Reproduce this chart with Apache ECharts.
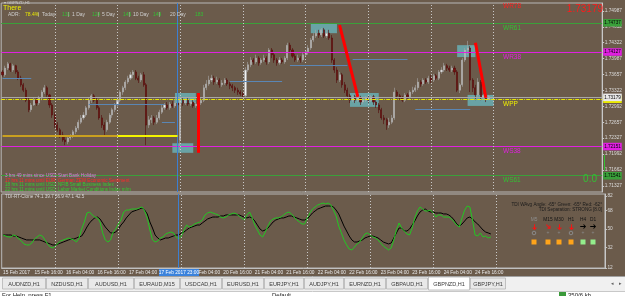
<!DOCTYPE html>
<html><head><meta charset="utf-8">
<script src="https://cdn.jsdelivr.net/npm/echarts@6/dist/echarts.min.js"></script>
<style>html,body{margin:0;padding:0;background:#6b5b4b;overflow:hidden}#c{width:625px;height:296px;}</style>
</head><body><div id="c"></div>
<script>
// ---------- DATA ----------
const open=[1.7371,1.7365,1.7379,1.7388,1.7375,1.7384,1.7371,1.7358,1.7344,1.7333,
1.7312,1.7292,1.7302,1.7312,1.7306,1.7317,1.7329,1.7338,1.7323,1.7302,
1.7281,1.7260,1.7250,1.7239,1.7229,1.7225,1.7233,1.7237,1.7246,1.7254,
1.7266,1.7275,1.7281,1.7296,1.7312,1.7321,1.7312,1.7296,1.7275,1.7260,
1.7250,1.7266,1.7281,1.7292,1.7302,1.7312,1.7329,1.7338,1.7350,1.7358,
1.7365,1.7371,1.7358,1.7354,1.7365,1.7344,1.7260,1.7271,1.7275,1.7266,
1.7275,1.7287,1.7296,1.7302,1.7296,1.7304,1.7300,1.7306,1.7229,1.7312,
1.7306,1.7312,1.7304,1.7308,1.7300,1.7304,1.7306,1.7312,1.7338,1.7346,
1.7354,1.7358,1.7350,1.7354,1.7344,1.7348,1.7354,1.7346,1.7342,1.7338,
1.7333,1.7329,1.7325,1.7321,1.7375,1.7386,1.7396,1.7392,1.7400,1.7390,
1.7396,1.7400,1.7392,1.7417,1.7407,1.7396,1.7390,1.7396,1.7392,1.7400,
1.7427,1.7417,1.7404,1.7396,1.7400,1.7396,1.7407,1.7413,1.7421,1.7438,
1.7446,1.7452,1.7448,1.7459,1.7446,1.7452,1.7442,1.7396,1.7375,1.7354,
1.7365,1.7344,1.7333,1.7321,1.7312,1.7319,1.7312,1.7317,1.7308,1.7312,
1.7317,1.7312,1.7319,1.7308,1.7302,1.7292,1.7275,1.7271,1.7260,1.7266,
1.7275,1.7329,1.7321,1.7317,1.7312,1.7323,1.7319,1.7329,1.7333,1.7338,
1.7350,1.7346,1.7354,1.7350,1.7358,1.7354,1.7363,1.7358,1.7371,1.7375,
1.7384,1.7379,1.7375,1.7379,1.7371,1.7333,1.7344,1.7396,1.7417,1.7421,
1.7354,1.7338,1.7323,1.7350,1.7317,1.7321,1.7315];
const close=[1.7365,1.7379,1.7388,1.7375,1.7384,1.7371,1.7358,1.7344,1.7333,1.7312,
1.7292,1.7302,1.7312,1.7306,1.7317,1.7329,1.7338,1.7323,1.7302,1.7281,
1.7260,1.7250,1.7239,1.7229,1.7225,1.7233,1.7237,1.7246,1.7254,1.7266,
1.7275,1.7281,1.7296,1.7312,1.7321,1.7312,1.7296,1.7275,1.7260,1.7250,
1.7266,1.7281,1.7292,1.7302,1.7312,1.7329,1.7338,1.7350,1.7358,1.7365,
1.7371,1.7358,1.7354,1.7365,1.7344,1.7260,1.7271,1.7275,1.7266,1.7275,
1.7287,1.7296,1.7302,1.7296,1.7304,1.7300,1.7306,1.7302,1.7312,1.7306,
1.7312,1.7304,1.7308,1.7300,1.7304,1.7306,1.7312,1.7338,1.7346,1.7354,
1.7358,1.7350,1.7354,1.7344,1.7348,1.7354,1.7346,1.7342,1.7338,1.7333,
1.7329,1.7325,1.7321,1.7375,1.7386,1.7396,1.7392,1.7400,1.7390,1.7396,
1.7400,1.7392,1.7417,1.7407,1.7396,1.7390,1.7396,1.7392,1.7400,1.7427,
1.7417,1.7404,1.7396,1.7400,1.7396,1.7407,1.7413,1.7421,1.7438,1.7446,
1.7452,1.7448,1.7459,1.7446,1.7452,1.7442,1.7396,1.7375,1.7354,1.7365,
1.7344,1.7333,1.7321,1.7312,1.7319,1.7312,1.7317,1.7308,1.7312,1.7317,
1.7312,1.7319,1.7308,1.7302,1.7292,1.7275,1.7271,1.7260,1.7266,1.7275,
1.7329,1.7321,1.7317,1.7312,1.7323,1.7319,1.7329,1.7333,1.7338,1.7350,
1.7346,1.7354,1.7350,1.7358,1.7354,1.7363,1.7358,1.7371,1.7375,1.7384,
1.7379,1.7375,1.7379,1.7371,1.7333,1.7344,1.7396,1.7417,1.7421,1.7354,
1.7338,1.7323,1.7350,1.7317,1.7321,1.7315,1.7319];
const high=[1.7375,1.7384,1.7392,1.7390,1.7388,1.7386,1.7375,1.7363,1.7348,1.7338,
1.7317,1.7306,1.7317,1.7317,1.7321,1.7333,1.7344,1.7342,1.7325,1.7306,
1.7287,1.7266,1.7254,1.7246,1.7237,1.7237,1.7241,1.7250,1.7258,1.7271,
1.7281,1.7287,1.7300,1.7317,1.7325,1.7325,1.7317,1.7300,1.7281,1.7266,
1.7271,1.7285,1.7296,1.7306,1.7317,1.7333,1.7342,1.7354,1.7363,1.7371,
1.7375,1.7375,1.7363,1.7369,1.7371,1.7348,1.7279,1.7281,1.7279,1.7281,
1.7292,1.7302,1.7306,1.7308,1.7308,1.7310,1.7312,1.7310,1.7317,1.7317,
1.7317,1.7317,1.7315,1.7312,1.7308,1.7312,1.7317,1.7344,1.7354,1.7363,
1.7365,1.7363,1.7361,1.7358,1.7354,1.7358,1.7358,1.7350,1.7346,1.7342,
1.7338,1.7333,1.7329,1.7381,1.7392,1.7402,1.7400,1.7407,1.7404,1.7400,
1.7407,1.7404,1.7421,1.7421,1.7411,1.7400,1.7402,1.7400,1.7404,1.7432,
1.7432,1.7421,1.7409,1.7407,1.7404,1.7411,1.7417,1.7427,1.7442,1.7452,
1.7459,1.7459,1.7463,1.7463,1.7459,1.7459,1.7448,1.7400,1.7381,1.7371,
1.7369,1.7350,1.7338,1.7325,1.7323,1.7323,1.7321,1.7321,1.7317,1.7321,
1.7321,1.7323,1.7323,1.7312,1.7306,1.7296,1.7281,1.7275,1.7275,1.7281,
1.7338,1.7333,1.7325,1.7321,1.7327,1.7327,1.7333,1.7340,1.7344,1.7358,
1.7354,1.7358,1.7358,1.7363,1.7365,1.7367,1.7367,1.7375,1.7381,1.7390,
1.7388,1.7384,1.7384,1.7384,1.7375,1.7348,1.7400,1.7421,1.7436,1.7425,
1.7358,1.7344,1.7358,1.7354,1.7325,1.7325,1.7323];
const low=[1.7361,1.7361,1.7375,1.7371,1.7371,1.7367,1.7354,1.7340,1.7329,1.7308,
1.7287,1.7287,1.7300,1.7300,1.7302,1.7312,1.7325,1.7319,1.7296,1.7275,
1.7254,1.7246,1.7233,1.7225,1.7218,1.7220,1.7229,1.7233,1.7241,1.7250,
1.7262,1.7271,1.7277,1.7292,1.7306,1.7308,1.7292,1.7271,1.7254,1.7239,
1.7246,1.7262,1.7275,1.7287,1.7298,1.7308,1.7323,1.7333,1.7346,1.7354,
1.7358,1.7354,1.7348,1.7350,1.7340,1.7218,1.7254,1.7264,1.7260,1.7262,
1.7271,1.7283,1.7292,1.7292,1.7292,1.7296,1.7296,1.7298,1.7208,1.7300,
1.7302,1.7300,1.7300,1.7296,1.7296,1.7300,1.7302,1.7308,1.7333,1.7342,
1.7350,1.7344,1.7346,1.7338,1.7340,1.7344,1.7342,1.7335,1.7331,1.7327,
1.7323,1.7321,1.7317,1.7317,1.7371,1.7381,1.7386,1.7388,1.7384,1.7386,
1.7392,1.7386,1.7388,1.7400,1.7390,1.7384,1.7386,1.7388,1.7388,1.7396,
1.7411,1.7400,1.7392,1.7392,1.7390,1.7392,1.7402,1.7407,1.7417,1.7434,
1.7442,1.7442,1.7444,1.7442,1.7442,1.7438,1.7390,1.7369,1.7348,1.7350,
1.7338,1.7327,1.7315,1.7306,1.7308,1.7306,1.7308,1.7302,1.7304,1.7308,
1.7306,1.7308,1.7302,1.7296,1.7285,1.7271,1.7262,1.7250,1.7254,1.7262,
1.7271,1.7315,1.7312,1.7308,1.7308,1.7315,1.7315,1.7325,1.7329,1.7333,
1.7340,1.7342,1.7346,1.7346,1.7348,1.7350,1.7354,1.7354,1.7367,1.7371,
1.7373,1.7371,1.7371,1.7365,1.7329,1.7327,1.7340,1.7392,1.7407,1.7329,
1.7329,1.7312,1.7319,1.7312,1.7312,1.7308,1.7312];
const tdiGreen=[44.1,43.1,42.2,42.2,44.1,43.1,40.2,38.3,35.4,34.4,
34.4,36.3,40.2,42.2,44.1,43.1,39.3,35.4,32.4,31.5,
33.4,36.3,38.3,39.3,40.2,41.2,40.2,39.3,37.3,41.2,
49.9,56.8,65.5,66.5,63.6,61.6,60.7,56.8,46.1,39.3,
37.3,39.3,47.0,49.9,54.8,58.7,66.5,68.4,68.4,69.4,
69.4,69.4,70.4,71.4,67.5,60.7,49.0,39.3,37.3,38.3,
41.2,42.2,45.1,46.1,47.0,46.1,42.2,40.2,43.1,49.0,
53.8,51.9,52.8,54.8,55.8,56.8,58.7,63.6,65.5,66.5,
65.5,64.6,63.6,61.6,60.7,61.6,63.6,64.6,65.5,64.6,
62.6,60.7,58.7,63.6,66.5,60.7,53.8,49.0,44.1,42.2,
47.0,52.8,57.7,59.7,60.7,60.7,61.6,63.6,65.5,66.5,
64.6,61.6,58.7,56.8,54.8,54.8,60.7,65.5,69.4,71.4,
73.3,74.3,75.2,74.3,75.2,73.3,68.4,62.6,52.8,46.1,
39.3,34.4,30.5,29.5,32.4,35.4,37.3,41.2,45.1,46.1,
44.1,42.2,41.2,39.3,36.3,33.4,31.5,29.5,31.5,39.3,
49.0,55.8,50.9,48.0,45.1,44.1,50.9,60.7,67.5,71.4,
69.4,67.5,67.5,68.4,65.5,61.6,63.6,63.6,61.6,61.6,
61.6,59.7,56.8,53.8,51.9,60.7,68.4,72.3,71.4,58.7,
44.1,43.1,46.1,42.2,43.1,41.2,42.2];
const tdiSignal=[44.1,44.1,44.1,44.1,43.1,43.1,42.2,41.2,40.2,39.3,
39.3,39.3,39.3,39.3,39.3,38.3,37.3,36.3,35.4,34.4,
34.4,35.4,36.3,37.3,38.3,39.3,40.2,40.2,41.2,42.2,
43.1,47.0,51.9,55.8,58.7,60.7,61.6,59.7,55.8,51.9,
49.0,46.1,46.1,47.0,49.9,53.8,56.8,60.7,63.6,66.5,
67.5,68.4,69.4,70.4,68.4,64.6,56.8,50.9,44.1,41.2,
39.3,40.2,41.2,41.2,42.2,43.1,44.1,44.1,46.1,47.0,
49.0,50.9,51.9,52.8,53.8,53.8,55.8,57.7,59.7,60.7,
61.6,61.6,61.6,62.6,62.6,63.6,63.6,63.6,63.6,63.6,
63.6,62.6,61.6,60.7,61.6,60.7,57.7,53.8,49.9,48.0,
49.0,50.9,53.8,56.8,58.7,59.7,60.7,60.7,61.6,62.6,
62.6,61.6,60.7,59.7,58.7,58.7,59.7,62.6,65.5,67.5,
69.4,70.4,71.4,72.3,72.3,72.3,71.4,68.4,64.6,58.7,
52.8,48.0,43.1,39.3,37.3,37.3,38.3,39.3,41.2,42.2,
43.1,43.1,42.2,41.2,39.3,37.3,36.3,35.4,36.3,41.2,
46.1,50.9,50.9,48.0,48.0,49.9,53.8,57.7,62.6,66.5,
68.4,69.4,67.5,66.5,66.5,65.5,65.5,65.5,64.6,64.6,
63.6,61.6,58.7,54.8,52.8,54.8,57.7,60.7,61.6,59.7,
56.8,54.8,51.9,49.0,47.0,46.1,45.1];
const dayNames=['15 Feb','16 Feb','17 Feb','20 Feb','21 Feb','22 Feb','23 Feb','24 Feb','25 Feb','26 Feb'];
const xTickCats=['15 Feb 04:00','15 Feb 16:00','16 Feb 04:00','16 Feb 16:00','17 Feb 04:00','17 Feb 16:00','20 Feb 04:00','20 Feb 16:00','21 Feb 04:00','21 Feb 16:00','22 Feb 04:00','22 Feb 16:00','23 Feb 04:00','23 Feb 16:00','24 Feb 04:00','24 Feb 16:00'];
const xTickText=['15 Feb 2017','15 Feb 16:00','16 Feb 04:00','16 Feb 16:00','17 Feb 04:00','17 Feb 16:00','20 Feb 04:00','20 Feb 16:00','21 Feb 04:00','21 Feb 16:00','22 Feb 04:00','22 Feb 16:00','23 Feb 04:00','23 Feb 16:00','24 Feb 04:00','24 Feb 16:00'];
const separatorCats=['16 Feb 00:00','17 Feb 00:00','20 Feb 00:00','21 Feb 00:00','22 Feb 00:00','23 Feb 00:00','24 Feb 00:00','25 Feb 00:00'];
const cursorCat='17 Feb 23:00';
const priceTicks=[1.74987,1.74652,1.74322,1.73987,1.73657,1.73322,1.72992,1.72657,1.72327,1.71992,1.71662,1.71327];
const tdiTicks=[82,68,50,32,12];
const levelNames=['WR78','WR61','WR38','WPP','WS38','WS61'];
const levelValues=[1.75172,1.74737,1.74127,1.73139,1.72151,1.71541];
const bidPrice=1.73179;
// zones: [startCat, price1, endCat, price2]
const zones=[['17 Feb 22:00',1.7327,'20 Feb 06:00',1.7306],['17 Feb 21:00',1.7222,'20 Feb 05:00',1.7202],
['22 Feb 02:00',1.7473,'22 Feb 12:00',1.7452],['22 Feb 17:00',1.7327,'23 Feb 04:00',1.7298],
['24 Feb 10:00',1.7427,'24 Feb 17:00',1.7402],['24 Feb 14:00',1.7323,'25 Feb 00:00',1.7300]];
// arrows: [fromCat, fromPrice, toCat, toPrice]
const arrows=[['20 Feb 07:00',1.7202,'20 Feb 07:00',1.7327],['22 Feb 13:00',1.7469,'22 Feb 20:00',1.7319],['24 Feb 17:00',1.7432,'24 Feb 21:00',1.7317]];
// level segments: [fromCat, toCat, price]
const blueSegs=[['15 Feb 04:00','15 Feb 15:00',1.7358],['16 Feb 13:00','17 Feb 18:00',1.7304],['17 Feb 17:00','17 Feb 22:00',1.7266],
['20 Feb 19:00','21 Feb 15:00',1.7352],['21 Feb 18:00','22 Feb 16:00',1.7386],['22 Feb 18:00','23 Feb 15:00',1.7398],['23 Feb 18:00','24 Feb 15:00',1.7294]];
const weekLowSegs=[['15 Feb 04:00','17 Feb 00:00',1.7237],['17 Feb 00:00','17 Feb 23:00',1.7237]];

// ---------- BUILD ----------
const cats=[];
dayNames.forEach((d,k)=>{for(let h=(k===0?4:0);h<24;h++){if(cats.length<230)cats.push(d+' '+String(h).padStart(2,'0')+':00');}});
const ix=c=>cats.indexOf(c);
const F='Liberation Sans';
const candleData=open.map((o,i)=>[o,close[i],low[i],high[i]]);
const levelColors=['#ff2020','#3aa03a','#e020e0','#e8e800','#e020e0','#3aa03a'];
const levelTextColors=['#ff2020','#33c033','#e020e0','#f0f000','#e020e0','#33c033'];

const sepLines=separatorCats.map(c=>({xAxis:ix(c),lineStyle:{color:'#c8c8c8',type:[1,2],width:1}}));
sepLines.push({xAxis:ix(cursorCat),lineStyle:{color:'#3c7fd0',type:'solid',width:1}});

function T(x,y,text,fill,size,extra){return Object.assign({type:'text',x:x,y:y,silent:true,z:50,style:{text:text,fill:fill,font:(size||5)+'px '+F,textAlign:'left',textVerticalAlign:'middle'}},extra||{});}
function TA(x,y,text,fill,size,align,fontExtra){return {type:'text',x:x,y:y,silent:true,z:50,style:{text:text,fill:fill,font:(fontExtra||'')+(size||5)+'px '+F,textAlign:align||'left',textVerticalAlign:'middle'}};}

const graphics=[];
graphics.push(T(4,3,'\u25BE GBPNZD,H1','#cfcfcf',4));
graphics.push(T(3,8.5,'There','#f0f000',7));
const adr=[[8,'ADR:','#cfcfcf'],[25,'78.4%','#e8e800'],[38,'|','#cfcfcf'],[42,'Today:','#cfcfcf'],[62,'131','#33c033'],[67.5,'|','#cfcfcf'],[72,'1 Day','#cfcfcf'],[92,'124','#33c033'],[97.5,'|','#cfcfcf'],[102,'5 Day','#cfcfcf'],[123,'145','#33c033'],[128.5,'|','#cfcfcf'],[133,'10 Day','#cfcfcf'],[153,'149','#33c033'],[158.5,'|','#cfcfcf'],[170,'20 Day','#cfcfcf'],[195,'183','#33c033']];
adr.forEach(a=>graphics.push(T(a[0],15,a[1],a[2],5)));
graphics.push(TA(603,9,'1.73179','#ff1a1a',10,'right'));
graphics.push(TA(597,179.5,'0.0','#33c033',10,'right'));
const levelTextY=[6.5,28,57,104,151,180];
levelNames.forEach((n,k)=>graphics.push(T(503,levelTextY[k],n,levelTextColors[k],6.5)));
graphics.push(T(5,176,'3 hrs 49 mins since USD: Start Bank Holiday','#d77ee0',4.6));
graphics.push(T(5,180.5,'17 hrs 11 mins until EUR: German ZEW Economic Sentiment','#ff2a2a',4.6));
graphics.push(T(5,185,'18 hrs 11 mins until USD: NFIB Small Business Index','#33cc33',4.6));
graphics.push(T(5,189.5,'22 hrs 11 mins until USD: Labor Market Conditions Index m/m','#33cc33',4.6));
graphics.push(T(5,197,'TDI-RT-Clone 74.1 39.7 56.9 47.1 42.5','#d6d6d6',4.6));
graphics.push(TA(602,205,'TDI WAvg Angle: -65\u00B0 Green: -65\u00B0 Red: -62\u00B0','#1a1a1a',4.6,'right'));
graphics.push(TA(602,210,'TDI Separation: STRONG [8.0]','#1a1a1a',4.6,'right'));
const tfX=[534,548,559,571,583,593];
const tfNames=['M5','M15','M30','H1','H4','D1'];
tfNames.forEach((n,k)=>graphics.push(TA(tfX[k],220,n,k===0?'#8c8c8c':'#151515',4.8,'center')));
const arrowRot=[-Math.PI/2,-Math.PI/4,-Math.PI/2,-Math.PI/2,0,0];
const arrowCol=['#ff1010','#ff1010','#ff1010','#ff1010','#000000','#000000'];
tfX.forEach((x,k)=>graphics.push({type:'text',x:x,y:227,rotation:arrowRot[k],silent:true,z:50,style:{text:'\u2794',fill:arrowCol[k],font:'bold 8px DejaVu Sans',textAlign:'center',textVerticalAlign:'middle'}}));
tfX.forEach((x,k)=>{
  if(k===0||k===3) graphics.push({type:'circle',shape:{cx:x,cy:233,r:1.8},silent:true,z:50,style:{fill:'none',stroke:'#8a8a8a',lineWidth:1}});
  else graphics.push(TA(x,233,'+','#8a8a8a',5,'center'));
});
const sqCol=['#ffa41a','#ffa41a','#ffa41a','#ffa41a','#94ee8c','#94ee8c'];
tfX.forEach((x,k)=>graphics.push({type:'rect',shape:{x:x-2.5,y:239.5,width:5,height:5},silent:true,z:50,style:{fill:sqCol[k]}}));
graphics.push({type:'line',shape:{x1:604.5,y1:155,x2:604.5,y2:170},silent:true,z:50,style:{stroke:'#33c033',lineWidth:1}});
graphics.push({type:'rect',shape:{x:159,y:269,width:40,height:7},silent:true,z:50,style:{fill:'#3a82dc'}});
graphics.push(TA(179,272.5,'17 Feb 2017 23:00','#ffffff',4.8,'center'));
graphics.push({type:'rect',shape:{x:0,y:276,width:625,height:16},silent:true,z:40,style:{fill:'#f0f0f0'}});
graphics.push({type:'line',shape:{x1:0,y1:276.5,x2:625,y2:276.5},silent:true,z:41,style:{stroke:'#a0a0a0',lineWidth:1}});
const tabs=['AUDNZD,H1','NZDUSD,H1','AUDUSD,H1','EURAUD,M15','USDCAD,H1','EURUSD,H1','EURJPY,H1','AUDJPY,H1','EURNZD,H1','GBPAUD,H1','GBPNZD,H1','GBPJPY,H1'];
const tabEdges=[2,46,88,134,180,222,264,304,344,386,428,470,506];
tabs.forEach((t,k)=>{
  const x0=tabEdges[k],x1=tabEdges[k+1];
  const act=(t==='GBPNZD,H1');
  graphics.push({type:'rect',shape:{x:x0+0.5,y:act?277:278,width:x1-x0-1,height:act?13:11},silent:true,z:42,style:{fill:act?'#ffffff':'#e9e9e9',stroke:'#b4b4b4',lineWidth:0.8}});
  graphics.push({type:'text',x:(x0+x1)/2,y:284,silent:true,z:43,style:{text:t,fill:'#3a3a3a',font:'5.5px '+F,textAlign:'center',textVerticalAlign:'middle'}});
});
graphics.push(TA(612,284,'\u25C2','#606060',5,'center'));
graphics.push(TA(620,284,'\u25B8','#606060',5,'center'));
graphics.push({type:'rect',shape:{x:0,y:291,width:625,height:5},silent:true,z:40,style:{fill:'#ffffff'}});
graphics.push({type:'line',shape:{x1:0,y1:291.5,x2:625,y2:291.5},silent:true,z:41,style:{stroke:'#c8c8c8',lineWidth:1}});
graphics.push({type:'text',x:2,y:292,silent:true,z:43,style:{text:'For Help, press F1',fill:'#202020',font:'6px '+F,textAlign:'left',textVerticalAlign:'top'}});
graphics.push({type:'text',x:272,y:292,silent:true,z:43,style:{text:'Default',fill:'#202020',font:'6px '+F,textAlign:'left',textVerticalAlign:'top'}});
graphics.push({type:'rect',shape:{x:559,y:292,width:7,height:4},silent:true,z:43,style:{fill:'#3a9a3a'}});
graphics.push({type:'text',x:568,y:292,silent:true,z:43,style:{text:'350/6 kb',fill:'#202020',font:'6px '+F,textAlign:'left',textVerticalAlign:'top'}});

const levelLines=levelValues.map((v,k)=>({yAxis:v,lineStyle:{color:levelColors[k],width:1,type:k===3?[4,1,1,1]:'solid'},
  label:{show:true,position:'end',distance:1,formatter:v.toFixed(5),backgroundColor:levelColors[k],color:'#000',fontSize:4.6,padding:[1.5,1,1,1],fontFamily:F}}));
levelLines.push({yAxis:bidPrice,lineStyle:{color:'#a8a8a8',width:1,type:'solid'},
  label:{show:true,position:'end',distance:1,formatter:bidPrice.toFixed(5),backgroundColor:'#e8e8e8',color:'#000',fontSize:4.6,padding:[1.5,1,1,1],fontFamily:F}});
const segLines=blueSegs.map(s=>[{coord:[ix(s[0]),s[2]]},{coord:[ix(s[1]),s[2]]}]);
const wkLines=weekLowSegs.map((s,k)=>[{coord:[ix(s[0]),s[2]],lineStyle:{color:k===0?'#c9a020':'#f4f400',width:2}},{coord:[ix(s[1]),s[2]]}]);

const option={
  animation:false,
  backgroundColor:'#6b5b4b',
  grid:[{left:1.2,top:3,width:603.75,height:189,show:true,borderColor:'#b8b8b8',borderWidth:1,backgroundColor:'transparent'},
        {left:1.2,top:194,width:603.75,height:74,show:true,borderColor:'#b8b8b8',borderWidth:1,backgroundColor:'transparent'}],
  xAxis:[{type:'category',gridIndex:0,data:cats,boundaryGap:true,axisLine:{show:false},axisTick:{show:false},axisLabel:{show:false},splitLine:{show:false}},
         {type:'category',gridIndex:1,data:cats,boundaryGap:true,position:'bottom',
          axisLine:{show:true,lineStyle:{color:'#c0c0c0'}},
          axisTick:{show:false},
          axisLabel:{show:true,interval:(i,v)=>xTickCats.indexOf(v)>=0,formatter:v=>xTickText[xTickCats.indexOf(v)],align:'left',color:'#e8e8e8',fontSize:4.8,margin:2.5,fontFamily:F},
          splitLine:{show:false}}],
  yAxis:[{type:'value',gridIndex:0,position:'right',min:1.71201,max:1.75151,splitLine:{show:false},
          axisLine:{show:true,lineStyle:{color:'#c8c8c8'}},
          axisTick:{show:true,customValues:priceTicks,length:2,lineStyle:{color:'#c8c8c8'}},
          axisLabel:{show:true,customValues:priceTicks,formatter:v=>v.toFixed(5),color:'#dcdcdc',fontSize:4.8,margin:2.5,fontFamily:F}},
         {type:'value',gridIndex:1,position:'right',min:12,max:84,splitLine:{show:false},
          axisLine:{show:true,lineStyle:{color:'#c8c8c8'}},
          axisTick:{show:true,customValues:tdiTicks,length:2,lineStyle:{color:'#c8c8c8'}},
          axisLabel:{show:true,customValues:tdiTicks,color:'#dcdcdc',fontSize:4.8,margin:2.5,fontFamily:F}}],
  graphic:{elements:graphics},
  series:[
    {type:'line',xAxisIndex:0,yAxisIndex:0,data:[],z:1,silent:true,
      markLine:{silent:true,symbol:'none',precision:6,animation:false,data:levelLines.concat(sepLines)}},
    {type:'line',xAxisIndex:0,yAxisIndex:0,data:[],z:1,silent:true,
      markLine:{silent:true,symbol:'none',precision:6,animation:false,label:{show:false},lineStyle:{color:'#5a86b4',width:1,type:'solid'},data:segLines.concat(wkLines)}},
    {type:'candlestick',xAxisIndex:0,yAxisIndex:0,data:candleData,barWidth:1.6,z:3,silent:true,
      itemStyle:{color:'#f2f2f2',color0:'#7a0e0e',borderColor:'#a6a6a6',borderColor0:'#520a0a',borderWidth:0.6}},
    {type:'line',xAxisIndex:0,yAxisIndex:0,data:[],z:4,silent:true,
      markArea:{silent:true,precision:6,itemStyle:{color:'rgba(104,200,212,0.66)'},data:zones.map(z=>[{coord:[ix(z[0]),z[1]]},{coord:[ix(z[2]),z[3]]}])}},
    {type:'line',xAxisIndex:0,yAxisIndex:0,data:[],z:5,silent:true,
      markLine:{silent:true,precision:6,symbol:['none','arrow'],symbolSize:[0,8],label:{show:false},lineStyle:{color:'#ff0000',width:3,type:'solid'},data:arrows.map(a=>[{coord:[ix(a[0]),a[1]]},{coord:[ix(a[2]),a[3]]}])}},
    {type:'line',xAxisIndex:1,yAxisIndex:1,data:tdiSignal,showSymbol:false,silent:true,z:3,lineStyle:{color:'#000000',width:1},
      markLine:{silent:true,symbol:'none',precision:6,label:{show:false},data:sepLines}},
    {type:'line',xAxisIndex:1,yAxisIndex:1,data:tdiGreen,showSymbol:false,silent:true,z:4,lineStyle:{color:'#22c822',width:1}}
  ]
};
const chart=echarts.init(document.getElementById('c'));
chart.setOption(option);
</script></body></html>
